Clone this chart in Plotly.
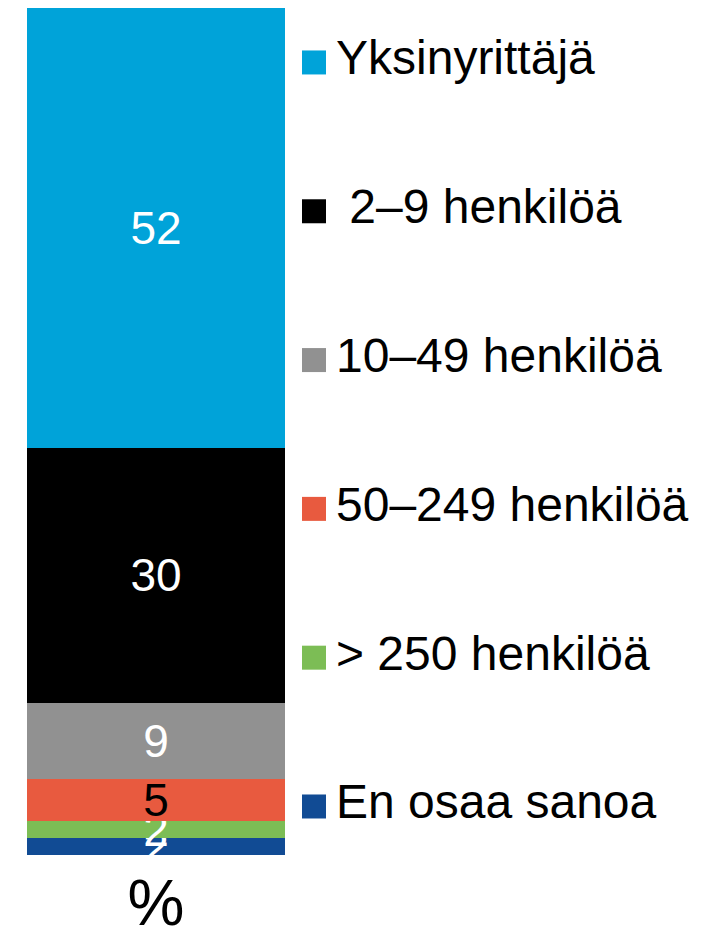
import plotly.graph_objects as go

categories = ["%"]
series_names = ["En osaa sanoa", "> 250 henkilöä", "50–249 henkilöä", "10–49 henkilöä", "\u00a02–9 henkilöä", "Yksinyrittäjä"]
series_values = [2, 2, 5, 9, 30, 52]
series_colors = ["#114B94", "#7CBD55", "#E85A3F", "#919191", "#000000", "#00A3D9"]
label_colors = ["white", "white", "black", "white", "white", "white"]

FONT = "Liberation Sans, Arial, sans-serif"

fig = go.Figure()
for name, val, col, lc in zip(series_names, series_values, series_colors, label_colors):
    fig.add_trace(go.Bar(
        x=categories, y=[val], name=name, marker=dict(color=col, line=dict(width=0)),
        text=[str(val)], textposition="inside", insidetextanchor="middle", textangle=0,
        constraintext="none", textfont=dict(color=lc, size=46, family=FONT),
        showlegend=False, hoverinfo="skip", xaxis="x", yaxis="y",
    ))

# legend drawn as scatter traces on an overlay axis
n = len(series_names)
fig.add_trace(go.Scatter(
    x=[306] * n, y=list(range(n)), mode="markers",
    marker=dict(symbol="square", size=24, color=series_colors, line=dict(width=0)),
    showlegend=False, hoverinfo="skip", xaxis="x2", yaxis="y2", cliponaxis=False,
))
fig.add_trace(go.Scatter(
    x=[328] * n, y=list(range(n)), mode="text", text=series_names, textposition="middle right",
    textfont=dict(size=48, color="black", family=FONT),
    showlegend=False, hoverinfo="skip", xaxis="x2", yaxis="y2", cliponaxis=False,
))

fig.update_layout(
    width=708, height=933,
    margin=dict(l=0, r=0, t=0, b=86),
    paper_bgcolor="white", plot_bgcolor="rgba(0,0,0,0)",
    barmode="stack", bargap=0.128,
    showlegend=False,
    xaxis=dict(domain=[0, 296 / 708], showgrid=False, zeroline=False, showline=False,
               ticks="", ticklabelstandoff=5,
               tickfont=dict(size=64, family=FONT, color="black")),
    yaxis=dict(range=[0, 100], visible=False),
    xaxis2=dict(domain=[0, 1], range=[0, 708], visible=False, anchor="y2"),
    yaxis2=dict(range=[-0.326, 5.366], visible=False, anchor="x2", domain=[0, 1]),
)

fig.write_html("out.html")
